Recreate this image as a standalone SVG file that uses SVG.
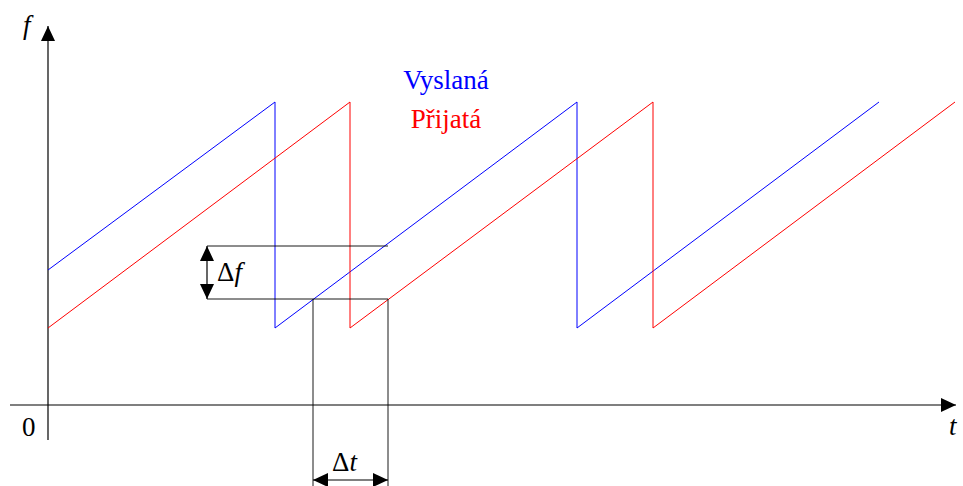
<svg xmlns="http://www.w3.org/2000/svg" width="963" height="486" viewBox="0 0 963 486">
<style>
.ax{stroke:#000;stroke-width:1.2;fill:none}
.dim{stroke:#000;stroke-width:0.9;fill:none}
.blue{stroke:#0000ff;stroke-width:1;fill:none}
.red{stroke:#ff0000;stroke-width:1;fill:none}
.it{font-style:italic}
.lbl{font-family:"Times New Roman","Liberation Serif","DejaVu Serif","Noto Serif",Times,serif;font-size:27px}
</style>
<defs>
<marker id="ah" viewBox="0 0 15 14" refX="15" refY="7" markerWidth="15" markerHeight="14" markerUnits="userSpaceOnUse" orient="auto-start-reverse">
<path d="M0,0 L15,7 L0,14 Z" fill="#000"/>
</marker>
</defs>
<g id="connectors">
<line class="ax" x1="48" y1="440" x2="48" y2="26" marker-end="url(#ah)"/>
<line class="ax" x1="10" y1="405" x2="956" y2="405" marker-end="url(#ah)"/>
<polyline class="blue" points="48,270 275,102 275,328 577,102 577,328 879,102"/>
<polyline class="red" points="48,328 350,102 350,328 653,102 653,328 955,102"/>
<line class="dim" x1="207" y1="246" x2="388" y2="246"/>
<line class="dim" x1="207" y1="299" x2="388" y2="299"/>
<line class="dim" x1="313" y1="299" x2="313" y2="486"/>
<line class="dim" x1="388" y1="299" x2="388" y2="486"/>
<line class="ax" x1="207" y1="246" x2="207" y2="299" marker-start="url(#ah)" marker-end="url(#ah)"/>
<line class="ax" x1="313" y1="480" x2="388" y2="480" marker-start="url(#ah)" marker-end="url(#ah)"/>
</g>
<g id="labels">
<text class="lbl it" x="23" y="34">f</text>
<text class="lbl" x="22" y="436">0</text>
<text class="lbl it" x="949" y="435">t</text>
<text class="lbl" x="217" y="281">Δ<tspan class="it">f</tspan></text>
<text class="lbl" x="332" y="471">Δ<tspan class="it">t</tspan></text>
<text class="lbl" x="446" y="89" text-anchor="middle" fill="#0000ff">Vyslaná</text>
<text class="lbl" x="446" y="128" text-anchor="middle" fill="#ff0000">Přijatá</text>
</g>
</svg>
